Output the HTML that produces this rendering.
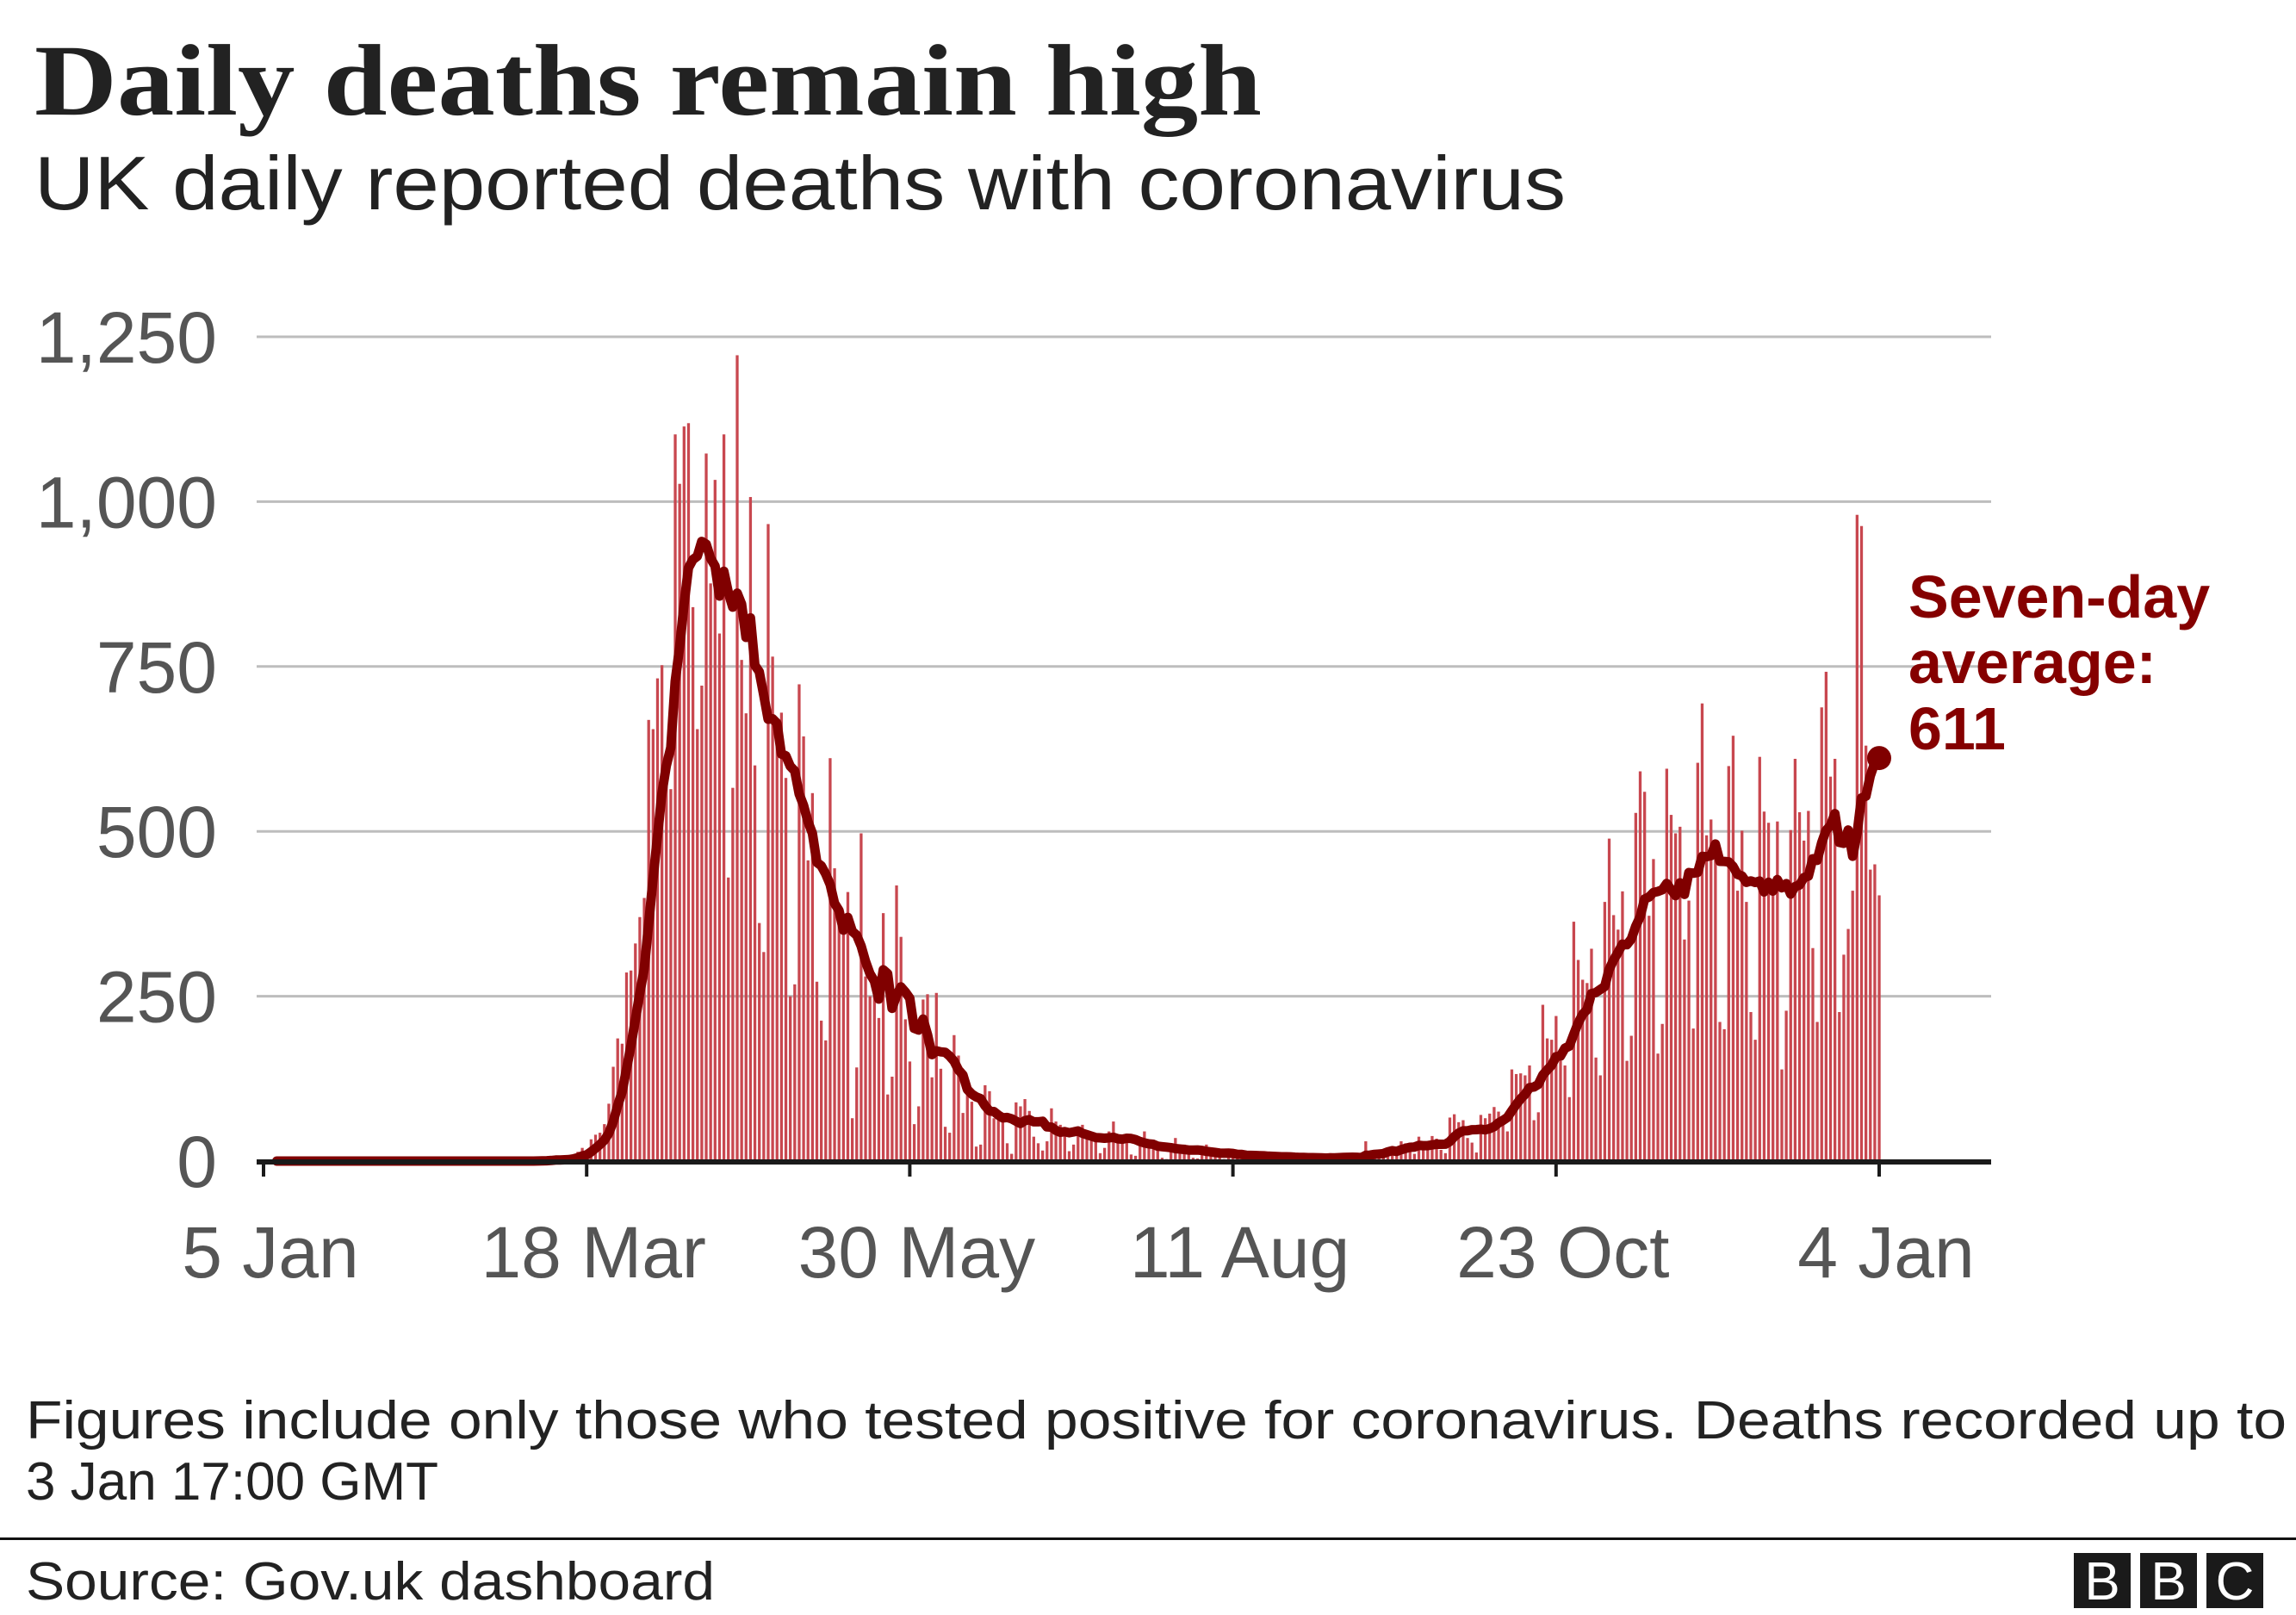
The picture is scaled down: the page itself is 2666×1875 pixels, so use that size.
<!DOCTYPE html>
<html><head><meta charset="utf-8"><style>
html,body{margin:0;padding:0;background:#fff;}
svg{display:block;}
</style></head><body>
<svg id="chart" xmlns="http://www.w3.org/2000/svg" width="2666" height="1875" viewBox="0 0 2666 1875">
<text x="40" y="133" font-family="'Liberation Serif',serif" font-weight="bold" font-size="118" fill="#222" textLength="1425" lengthAdjust="spacingAndGlyphs">Daily deaths remain high</text>
<text x="40" y="243" font-family="'Liberation Sans',sans-serif" font-size="88" fill="#222" textLength="1778" lengthAdjust="spacingAndGlyphs">UK daily reported deaths with coronavirus</text>
<g id="grid"></g>
<g id="yticks"></g>
<g id="bars"></g>
<g id="avg"></g>
<g id="xaxis"></g>
<g font-family="'Liberation Sans',sans-serif" font-weight="bold" font-size="70" fill="#850000">
<text x="2216" y="717">Seven-day</text>
<text x="2216" y="793">average:</text>
<text id="avgLabel" x="2216" y="870">611</text>
</g>
<text x="30" y="1670" font-family="'Liberation Sans',sans-serif" font-size="62" fill="#222" textLength="2625" lengthAdjust="spacingAndGlyphs">Figures include only those who tested positive for coronavirus. Deaths recorded up to</text>
<text x="30" y="1741" font-family="'Liberation Sans',sans-serif" font-size="62" fill="#222">3 Jan 17:00 GMT</text>
<rect x="0" y="1785" width="2666" height="3" fill="#111"/>
<text x="30" y="1857" font-family="'Liberation Sans',sans-serif" font-size="62" fill="#222" textLength="800" lengthAdjust="spacingAndGlyphs">Source: Gov.uk dashboard</text>
<g font-family="'Liberation Sans',sans-serif" font-size="62" fill="#fff" text-anchor="middle">
<rect x="2408" y="1803" width="66" height="64" fill="#1a1a1a"/>
<rect x="2485" y="1803" width="66" height="64" fill="#1a1a1a"/>
<rect x="2562" y="1803" width="66" height="64" fill="#1a1a1a"/>
<text x="2441" y="1857">B</text><text x="2518" y="1857">B</text><text x="2595" y="1857">C</text>
</g>
</svg>
<script>
const yTicks = [0, 250, 500, 750, 1000, 1250];
const yTickLabels = ["0", "250", "500", "750", "1,000", "1,250"];
const xTickDays = [0, 73, 146, 219, 292, 365];
const xTickLabels = ["5 Jan", "18 Mar", "30 May", "11 Aug", "23 Oct", "4 Jan"];
const firstDataDay = 61;
const deaths = [
0,1,2,1,2,5,1,2,3,10,14,20,16,33,40,43,56,87,
143,186,178,286,289,330,370,399,669,655,732,752,620,564,1102,1027,1114,1119,840,655,721,1073,876,1033,800,1102,430,566,1222,760,679,1007,600,361,317,966,765,632,680,581,250,268,723,644,456,558,272,213,183,611,444,380,348,408,65,142,497,280,250,269,217,376,101,128,418,340,215,151,56,83,245,253,127,255,140,52,43,191,160,73,102,90,22,25,115,106,65,65,60,27,11,89,83,94,76,37,27,16,
30,80,60,55,45,15,25,
40,55,45,40,30,12,20,
45,60,30,35,40,10,8,
25,45,20,30,20,5,3,
20,35,15,25,14,5,4,
15,25,10,18,8,3,5,
12,16,8,10,6,2,4,
10,12,6,8,4,2,3,
6,10,5,7,4,1,2,
3,12,6,9,6,2,3,
2,9,30,11,14,6,8,
20,22,21,30,27,18,11,
37,20,21,38,34,17,12,
66,71,59,
62,35,28,13,70,65,72,82,75,55,45,139,132,133,130,145,62,74,237,186,184,220,152,145,97,363,305,275,270,322,157,130,393,489,373,351,409,152,190,528,591,560,372,458,163,208,595,525,497,507,336,395,201,604,694,494,518,460,211,200,599,645,410,501,393,226,184,613,530,513,407,515,139,228,502,610,529,486,531,323,211,688,742,583,610,226,313,352,410,980,963,630,442,450,403
];
const NS = "http://www.w3.org/2000/svg";
const X0 = 306, X1 = 2182, Y0 = 1348, Y1 = 391;
const xs = d => X0 + (X1 - X0) * d / 365;
const ys = v => Y0 - (Y0 - Y1) * v / 1250;
function mk(tag, attrs, parent){const e=document.createElementNS(NS,tag);for(const k in attrs)e.setAttribute(k,attrs[k]);parent.appendChild(e);return e;}
const grid=document.getElementById('grid'), yt=document.getElementById('yticks');
yTicks.forEach((v,i)=>{
  if(v>0){const l=mk('line',{x1:298,x2:2312,y1:ys(v),y2:ys(v),stroke:'#bdbdbd','stroke-width':3},grid);
  
  }
  const t=mk('text',{x:252,y:ys(v)+30,'text-anchor':'end','font-family':"'Liberation Sans',sans-serif",'font-size':84,fill:'#555'},yt);
  t.textContent=yTickLabels[i];
  
  
});
const bars=document.getElementById('bars');
deaths.forEach((v,i)=>{
  const d=firstDataDay+i; if(v<=0) return;
  const r=mk('rect',{x:xs(d)-1.6,y:ys(v),width:3.3,height:Y0-ys(v),fill:'#c8474f'},bars);
  
  
});
const full=[]; for(let d=0;d<=365;d++){full.push(d>=firstDataDay?deaths[d-firstDataDay]||0:0);}
let pts=[]; let last=0;
for(let d=3; d<=365; d++){let s=0;for(let k=d-6;k<=d;k++){if(k>=0){s+=full[k];}} last=s/7; pts.push(xs(d).toFixed(1)+','+ys(last).toFixed(1));}
const avg=document.getElementById('avg');
const pl=mk('polyline',{points:pts.join(' '),fill:'none',stroke:'#800000','stroke-width':11,'stroke-linejoin':'round','stroke-linecap':'round'},avg);


const dot=mk('circle',{cx:xs(365),cy:ys(last),r:14,fill:'#800000'},avg);


document.getElementById('avgLabel').textContent=Math.round(last);
const xa=document.getElementById('xaxis');
const ax=mk('line',{x1:298,x2:2312,y1:Y0+1,y2:Y0+1,stroke:'#1a1a1a','stroke-width':6},xa);


xTickDays.forEach((d,i)=>{
  const tk=mk('line',{x1:xs(d),x2:xs(d),y1:Y0,y2:Y0+18,stroke:'#1a1a1a','stroke-width':4},xa);
  
  
  const t=mk('text',{x:xs(d)+8,y:1483,'text-anchor':'middle','font-family':"'Liberation Sans',sans-serif",'font-size':84,fill:'#555'},xa);
  t.textContent=xTickLabels[i];
  
  
});
</script>
</body></html>
